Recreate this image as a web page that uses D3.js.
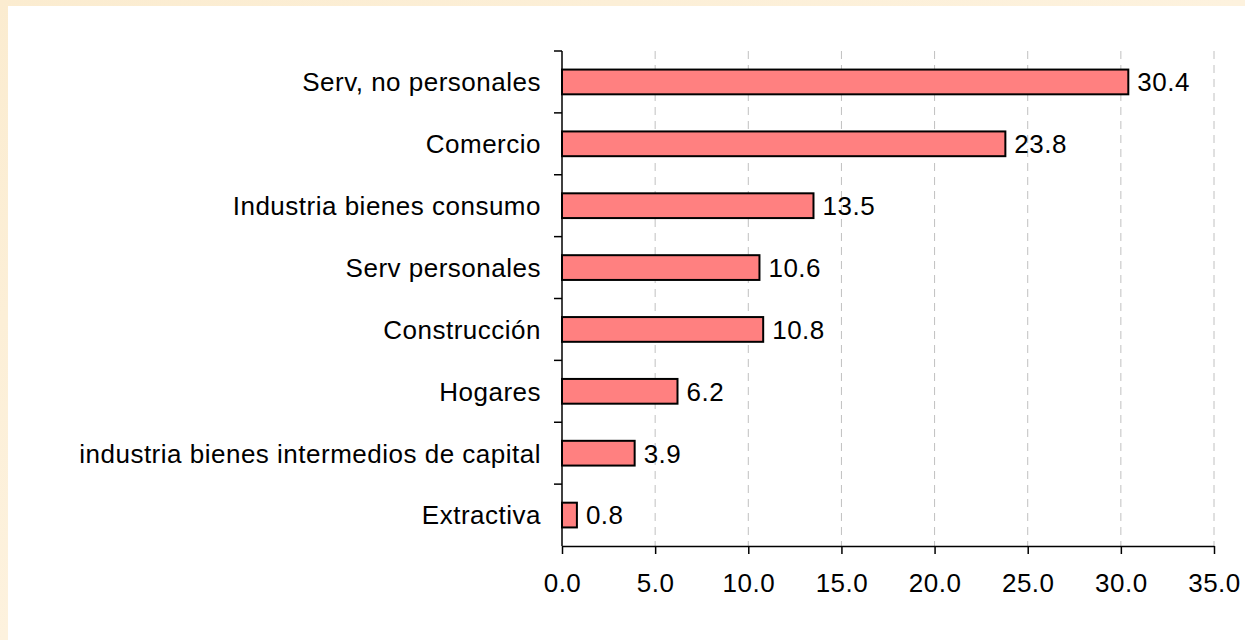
<!DOCTYPE html>
<html lang="en">
  <head>
    <meta charset="utf-8">
    <title>Ocupados por rama</title>
    <script type="text/javascript" src="https://d3js.org/d3.v7.min.js"></script>
    <style type="text/css">
    html, body {
      margin: 0;
      padding: 0;
      background: #fcefd6;
    }
    svg text {
      font-family: "Liberation Sans", Arial, sans-serif;
      font-size: 26px;
      letter-spacing: 0.5px;
      fill: #000;
    }
    .grid line {
      stroke: #c0c0c0;
      stroke-dasharray: 8,6;
    }
    </style>
  </head>
  <body>
    <svg width="1245" height="640" id="chart" style="display:block"></svg>

    <script type="text/javascript">

// data
    const categories = ["Serv, no personales", "Comercio", "Industria bienes consumo",
      "Serv personales", "Construcción", "Hogares",
      "industria bienes intermedios de capital", "Extractiva"];
    const values = [30.4, 23.8, 13.5, 10.6, 10.8, 6.2, 3.9, 0.8];
    const xTicks = [0, 5, 10, 15, 20, 25, 30, 35];

    const W = 1245, H = 640;
    const plotLeft = 562, plotRight = 1214, plotTop = 51, plotBottom = 546;

    const svg = d3.select("#chart");

    // beige frame, white plot area
    const defs = svg.append("defs");
    const grad = defs.append("linearGradient").attr("id", "paper")
        .attr("x1", 0).attr("y1", 0).attr("x2", 1).attr("y2", 1);
    grad.append("stop").attr("offset", "0%").attr("stop-color", "#fbecd0");
    grad.append("stop").attr("offset", "50%").attr("stop-color", "#fdf2de");
    grad.append("stop").attr("offset", "100%").attr("stop-color", "#fbecd2");
    svg.append("rect").attr("width", W).attr("height", H).attr("fill", "url(#paper)");
    svg.append("rect").attr("x", 8).attr("y", 6).attr("width", W - 8).attr("height", H - 6)
        .attr("fill", "#ffffff");

    const x = d3.scaleLinear().domain([0, 35]).range([plotLeft, plotRight]);
    const y = d3.scaleBand().domain(categories).range([plotTop, plotBottom]).padding(0);
    const barH = y.step() * 0.4;

    // gridlines
    svg.append("g").attr("class", "grid")
        .selectAll("line")
        .data(xTicks.slice(1))
        .join("line")
        .attr("x1", d => x(d)).attr("x2", d => x(d))
        .attr("y1", plotTop).attr("y2", plotBottom);

    // bars
    svg.selectAll("rect.bar")
        .data(values)
        .join("rect")
        .attr("class", "bar")
        .attr("x", x(0))
        .attr("y", (d, i) => y(categories[i]) + y.bandwidth() / 2 - barH / 2)
        .attr("width", d => x(d) - x(0))
        .attr("height", barH)
        .attr("fill", "#ff8080")
        .attr("stroke", "#000")
        .attr("stroke-width", 2);

    // value labels
    svg.selectAll("text.val")
        .data(values)
        .join("text")
        .attr("class", "val")
        .attr("x", d => x(d) + 9)
        .attr("y", (d, i) => y(categories[i]) + y.bandwidth() / 2)
        .attr("dy", "0.36em")
        .text(d => d.toFixed(1));

    // x axis
    const bottomAxis = d3.axisBottom(x)
        .tickValues(xTicks)
        .tickSize(8)
        .tickSizeOuter(0)
        .tickPadding(20)
        .tickFormat(d3.format(".1f"));
    const gx = svg.append("g")
        .attr("transform", "translate(0," + plotBottom + ")")
        .call(bottomAxis);
    gx.attr("font-family", null).attr("font-size", null);
    gx.select(".domain").attr("stroke", "#000").attr("stroke-width", 1.5);
    gx.selectAll(".tick line").attr("stroke", "#000").attr("stroke-width", 1.5);

    // y axis (ticks between categories)
    svg.append("line")
        .attr("x1", plotLeft).attr("x2", plotLeft)
        .attr("y1", plotTop).attr("y2", plotBottom)
        .attr("stroke", "#000").attr("stroke-width", 1.5);
    svg.selectAll("line.ytick")
        .data(categories)
        .join("line")
        .attr("class", "ytick")
        .attr("x1", plotLeft - 8).attr("x2", plotLeft)
        .attr("y1", d => y(d)).attr("y2", d => y(d))
        .attr("stroke", "#000").attr("stroke-width", 1.5);

    svg.selectAll("text.cat")
        .data(categories)
        .join("text")
        .attr("class", "cat")
        .attr("text-anchor", "end")
        .attr("x", plotLeft - 21)
        .attr("y", d => y(d) + y.bandwidth() / 2)
        .attr("dy", "0.36em")
        .text(d => d);

    </script>
  </body>
</html>
